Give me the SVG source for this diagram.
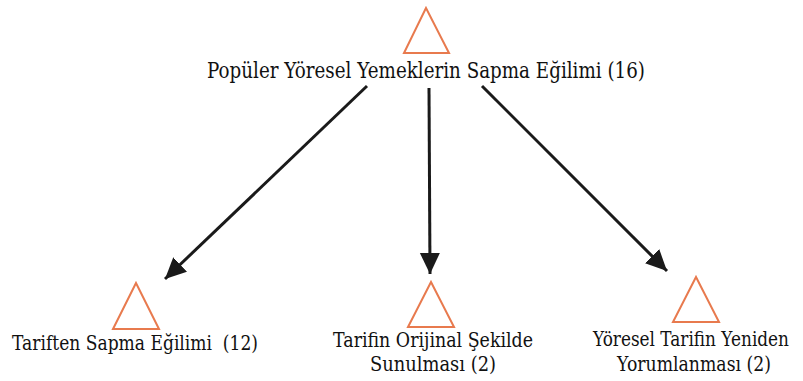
<svg xmlns="http://www.w3.org/2000/svg" width="803" height="381" viewBox="0 0 803 381">
  <style>
    .tri { fill: none; stroke: #E87A4E; stroke-width: 2; stroke-linejoin: miter; }
    text { font-family: "DejaVu Serif", "Liberation Serif", serif; fill: #111111; text-anchor: middle; white-space: pre; }
    .top { font-size: 23px; }
    .sub { font-size: 21px; }
    .edge { stroke: #1a1a1a; stroke-width: 3; fill: none; marker-end: url(#head); }
  </style>
  <defs>
    <marker id="head" markerUnits="userSpaceOnUse" markerWidth="24" markerHeight="22" refX="21" refY="10" orient="auto">
      <path d="M0,0 L21,10 L0,20 Z" fill="#1a1a1a"/>
    </marker>
  </defs>
  <rect width="803" height="381" fill="#ffffff"/>

  <g id="connectors">
    <line class="edge" x1="367" y1="86" x2="165" y2="279"/>
    <line class="edge" x1="429" y1="88" x2="430" y2="274"/>
    <line class="edge" x1="482" y1="86" x2="667" y2="271"/>
  </g>

  <g id="root">
    <polygon class="tri" points="426,8 404,53 449,53"/>
    <text class="top" x="426" y="78" textLength="438" lengthAdjust="spacingAndGlyphs">Popüler Yöresel Yemeklerin Sapma Eğilimi (16)</text>
  </g>

  <g id="node-tariften-sapma">
    <polygon class="tri" points="136,283 113,329 159,329"/>
    <text class="sub" x="135" y="350" textLength="246" lengthAdjust="spacingAndGlyphs">Tariften Sapma Eğilimi  (12)</text>
  </g>

  <g id="node-orijinal">
    <polygon class="tri" points="431,282 408,327 454,327"/>
    <text class="sub" x="433" y="347" textLength="200" lengthAdjust="spacingAndGlyphs">Tarifin Orijinal Şekilde</text>
    <text class="sub" x="433" y="371" textLength="126" lengthAdjust="spacingAndGlyphs">Sunulması (2)</text>
  </g>

  <g id="node-yeniden">
    <polygon class="tri" points="696,277 673,322 719,322"/>
    <text class="sub" x="691" y="346" textLength="196" lengthAdjust="spacingAndGlyphs" style="font-size:20px">Yöresel Tarifin Yeniden</text>
    <text class="sub" x="694" y="371" textLength="154" lengthAdjust="spacingAndGlyphs">Yorumlanması (2)</text>
  </g>
</svg>
